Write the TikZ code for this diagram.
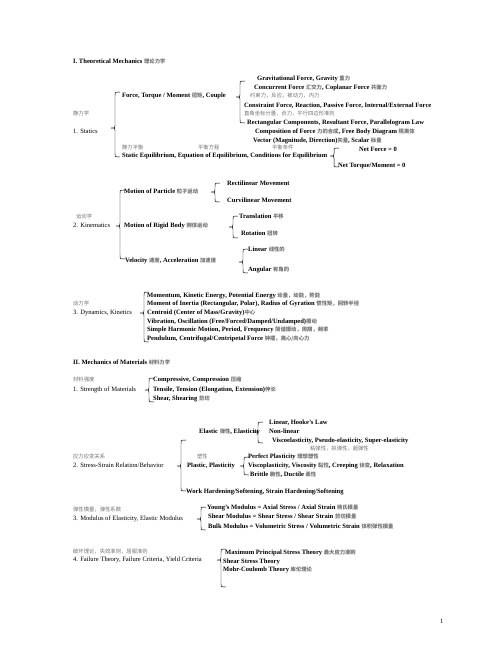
\documentclass[tikz,border=0pt]{standalone}
\usepackage{fontspec}
\setmainfont{Liberation Serif}
\newfontfamily\cjk{Noto Sans CJK SC}
\definecolor{zhgray}{gray}{0.45}
\newcommand{\zh}[1]{{\cjk\fontsize{6.5}{7}\selectfont\color{zhgray}#1}}
% left curly brace: x, top, tip, bottom
\newcommand{\curlyb}[4]{%
  \draw[brace line] (#1+5,#2) .. controls (#1,#2) .. (#1,#2+3.5) -- (#1,#3-2.5)
    .. controls (#1,#3) .. (#1-4,#3) .. controls (#1,#3) .. (#1,#3+2.5)
    -- (#1,#4-3.5) .. controls (#1,#4) .. (#1+5,#4);}

\begin{document}
\begin{tikzpicture}[x=1.2191pt, y=-1.2191pt,
    head/.style = {anchor=mid west, inner sep=0pt, font=\bfseries\fontsize{8}{9}\selectfont},
    label/.style = {anchor=mid west, inner sep=0pt, font=\fontsize{8}{9}\selectfont},
    item/.style = {anchor=mid west, inner sep=0pt, font=\bfseries\fontsize{8}{9}\selectfont},
    note/.style = {anchor=mid west, inner sep=0pt},
    brace line/.style = {line width=0.6pt}]

    \fill[white] (0,0) rectangle (502,649);
    \useasboundingbox (0,0) rectangle (502,649);

    % I. Theoretical Mechanics
    \node[head] (mech) at (73,62) {I. Theoretical Mechanics \zh{理论力学}};

    % Statics
    \node[note] (staticszh) at (73,114) {\zh{静力学}};
    \node[label] (statics) at (73,132) {1. Statics};
    \curlyb{115}{92}{128}{157}
    \node[item] (force) at (122,96) {Force, Torque / Moment \zh{扭矩}, Couple};
    \curlyb{240}{81}{97}{123}
    \node[item] (gravity) at (257,79) {Gravitational Force, Gravity \zh{重力}};
    \node[item] (concur) at (254,88) {Concurrent Force \zh{汇交力}, Coplanar Force \zh{共面力}};
    \node[note] (constrzh) at (250,96) {\zh{约束力，反应，被动力，内力}};
    \node[item] (constr) at (244,106) {Constraint Force, Reaction, Passive Force, Internal/External Force};
    \node[note] (rectzh) at (244,114) {\zh{直角坐标分量，合力，平行四边形准则}};
    \node[item] (rect) at (247,123) {Rectangular Components, Resultant Force, Parallelogram Law};
    \node[item] (compo) at (255,132) {Composition of Force \zh{力的合成}, Free Body Diagram \zh{隔离体}};
    \node[item] (vector) at (253,141) {Vector (Magnitude, Direction)\zh{矢量}, Scalar \zh{标量}};
    \node[note] (equilzh) at (122,148) {\zh{静力平衡}};
    \node[note] (eqnzh) at (198,148) {\zh{平衡方程}};
    \node[note] (condzh) at (272,148) {\zh{平衡条件}};
    \node[item] (equil) at (122,156) {Static Equilibrium, Equation of Equilibrium, Conditions for Equilibrium};
    \curlyb{334}{148}{156}{167}
    \node[item] (netforce) at (359,150) {Net Force = 0};
    \node[item] (nettorque) at (338,166) {Net Torque/Moment = 0};

    % Kinematics
    \node[note] (kinzh) at (76,217) {\zh{运动学}};
    \node[label] (kin) at (73,226) {2. Kinematics};
    \curlyb{120}{190}{226}{259}
    \node[item] (particle) at (124,192) {Motion of Particle \zh{粒子运动}};
    \node[item] (rigid) at (124,226) {Motion of Rigid Body \zh{刚体运动}};
    \node[item] (velocity) at (125,261) {Velocity \zh{速度}, Acceleration \zh{加速度}};
    \curlyb{215}{183}{192}{202}
    \node[item] (recti) at (227,184) {Rectilinear Movement};
    \node[item] (curvi) at (227,201) {Curvilinear Movement};
    \curlyb{233}{216}{227}{238}
    \node[item] (transl) at (239,217) {Translation \zh{平移}};
    \node[item] (rotat) at (241,234) {Rotation \zh{扭转}};
    \curlyb{243}{249}{262}{273}
    \node[item] (linear) at (248,250) {Linear \zh{线性的}};
    \node[item] (angular) at (248,270) {Angular \zh{有角的}};

    % Dynamics
    \node[note] (dynzh) at (73,304) {\zh{动力学}};
    \node[label] (dyn) at (73,313) {3. Dynamics, Kinetics};
    \curlyb{144}{292}{313}{342}
    \node[item] (momentum) at (147,296) {Momentum, Kinetic Energy, Potential Energy \zh{动量，动能，势能}};
    \node[item] (inertia) at (147,304) {Moment of Inertia (Rectangular, Polar), Radius of Gyration \zh{惯性矩，回转半径}};
    \node[item] (centroid) at (147,313) {Centroid (Center of Mass/Gravity)\zh{中心}};
    \node[item] (vibration) at (147,322) {Vibration, Oscillation (Free/Forced/Damped/Undamped)\zh{振动}};
    \node[item] (harmonic) at (147,330) {Simple Harmonic Motion, Period, Frequency \zh{简谐振动，周期，频率}};
    \node[item] (pendulum) at (147,339) {Pendulum, Centrifugal/Centripetal Force \zh{钟摆，离心/向心力}};

    % II. Mechanics of Materials
    \node[head] (materials) at (73,363) {II. Mechanics of Materials \zh{材料力学}};

    % Strength
    \node[note] (strzh) at (73,380) {\zh{材料强度}};
    \node[label] (strength) at (73,390) {1. Strength of Materials};
    \curlyb{149}{378}{390}{402}
    \node[item] (compr) at (153,380) {Compressive, Compression \zh{压缩}};
    \node[item] (tens) at (153,390) {Tensile, Tension (Elongation, Extension)\zh{伸长}};
    \node[item] (shear) at (153,399) {Shear, Shearing \zh{剪切}};

    % Stress-strain
    \node[note] (sszh) at (73,457) {\zh{应力应变关系}};
    \node[label] (ss) at (73,466) {2. Stress-Strain Relation/Behavior};
    \curlyb{181}{440}{466}{491}
    \node[item] (elastic) at (199,432) {Elastic \zh{弹性}, Elasticity};
    \curlyb{258}{422}{432}{443}
    \node[item] (hooke) at (269,423) {Linear, Hooke’s Law};
    \node[item] (nonlin) at (269,432) {Non-linear};
    \node[item] (visco) at (272,441) {Viscoelasticity, Pseudo-elasticity, Super-elasticity};
    \node[note] (viscozh) at (310,449) {\zh{粘弹性，拟弹性，超弹性}};
    \node[note] (plzh) at (197,457) {\zh{塑性}};
    \node[item] (plastic) at (187,466) {Plastic, Plasticity};
    \curlyb{244}{457}{466}{475}
    \node[item] (perfect) at (248,457) {Perfect Plasticity \zh{理想塑性}};
    \node[item] (viscopl) at (248,466) {Viscoplasticity, Viscosity \zh{黏性}, Creeping \zh{徐变}, Relaxation};
    \node[item] (brittle) at (250,475) {Brittle \zh{脆性}, Ductile \zh{柔性}};
    \node[item] (hardening) at (186,492) {Work Hardening/Softening, Strain Hardening/Softening};

    % Modulus
    \node[note] (modzh) at (73,510) {\zh{弹性模量，弹性系数}};
    \node[label] (modulus) at (73,519) {3. Modulus of Elasticity, Elastic Modulus};
    \curlyb{201}{507}{519}{530}
    \node[item] (young) at (207,508) {Young’s Modulus = Axial Stress / Axial Strain \zh{杨氏模量}};
    \node[item] (shearmod) at (208,517) {Shear Modulus = Shear Stress / Shear Strain \zh{剪切模量}};
    \node[item] (bulk) at (208,527) {Bulk Modulus = Volumetric Stress / Volumetric Strain \zh{体积弹性模量}};

    % Failure
    \node[note] (failzh) at (73,552) {\zh{破坏理论，失效准则，屈服准则}};
    \node[label] (failure) at (73,560) {4. Failure Theory, Failure Criteria, Yield Criteria};
    \curlyb{221}{549}{560}{587}
    \node[item] (maxstress) at (225,553) {Maximum Principal Stress Theory \zh{最大应力准则}};
    \node[item] (shearth) at (223,562) {Shear Stress Theory};
    \node[item] (mohr) at (223,570) {Mohr-Coulomb Theory \zh{库伦理论}};

    \node[label] (page) at (440,622) {1};
\end{tikzpicture}
\end{document}
